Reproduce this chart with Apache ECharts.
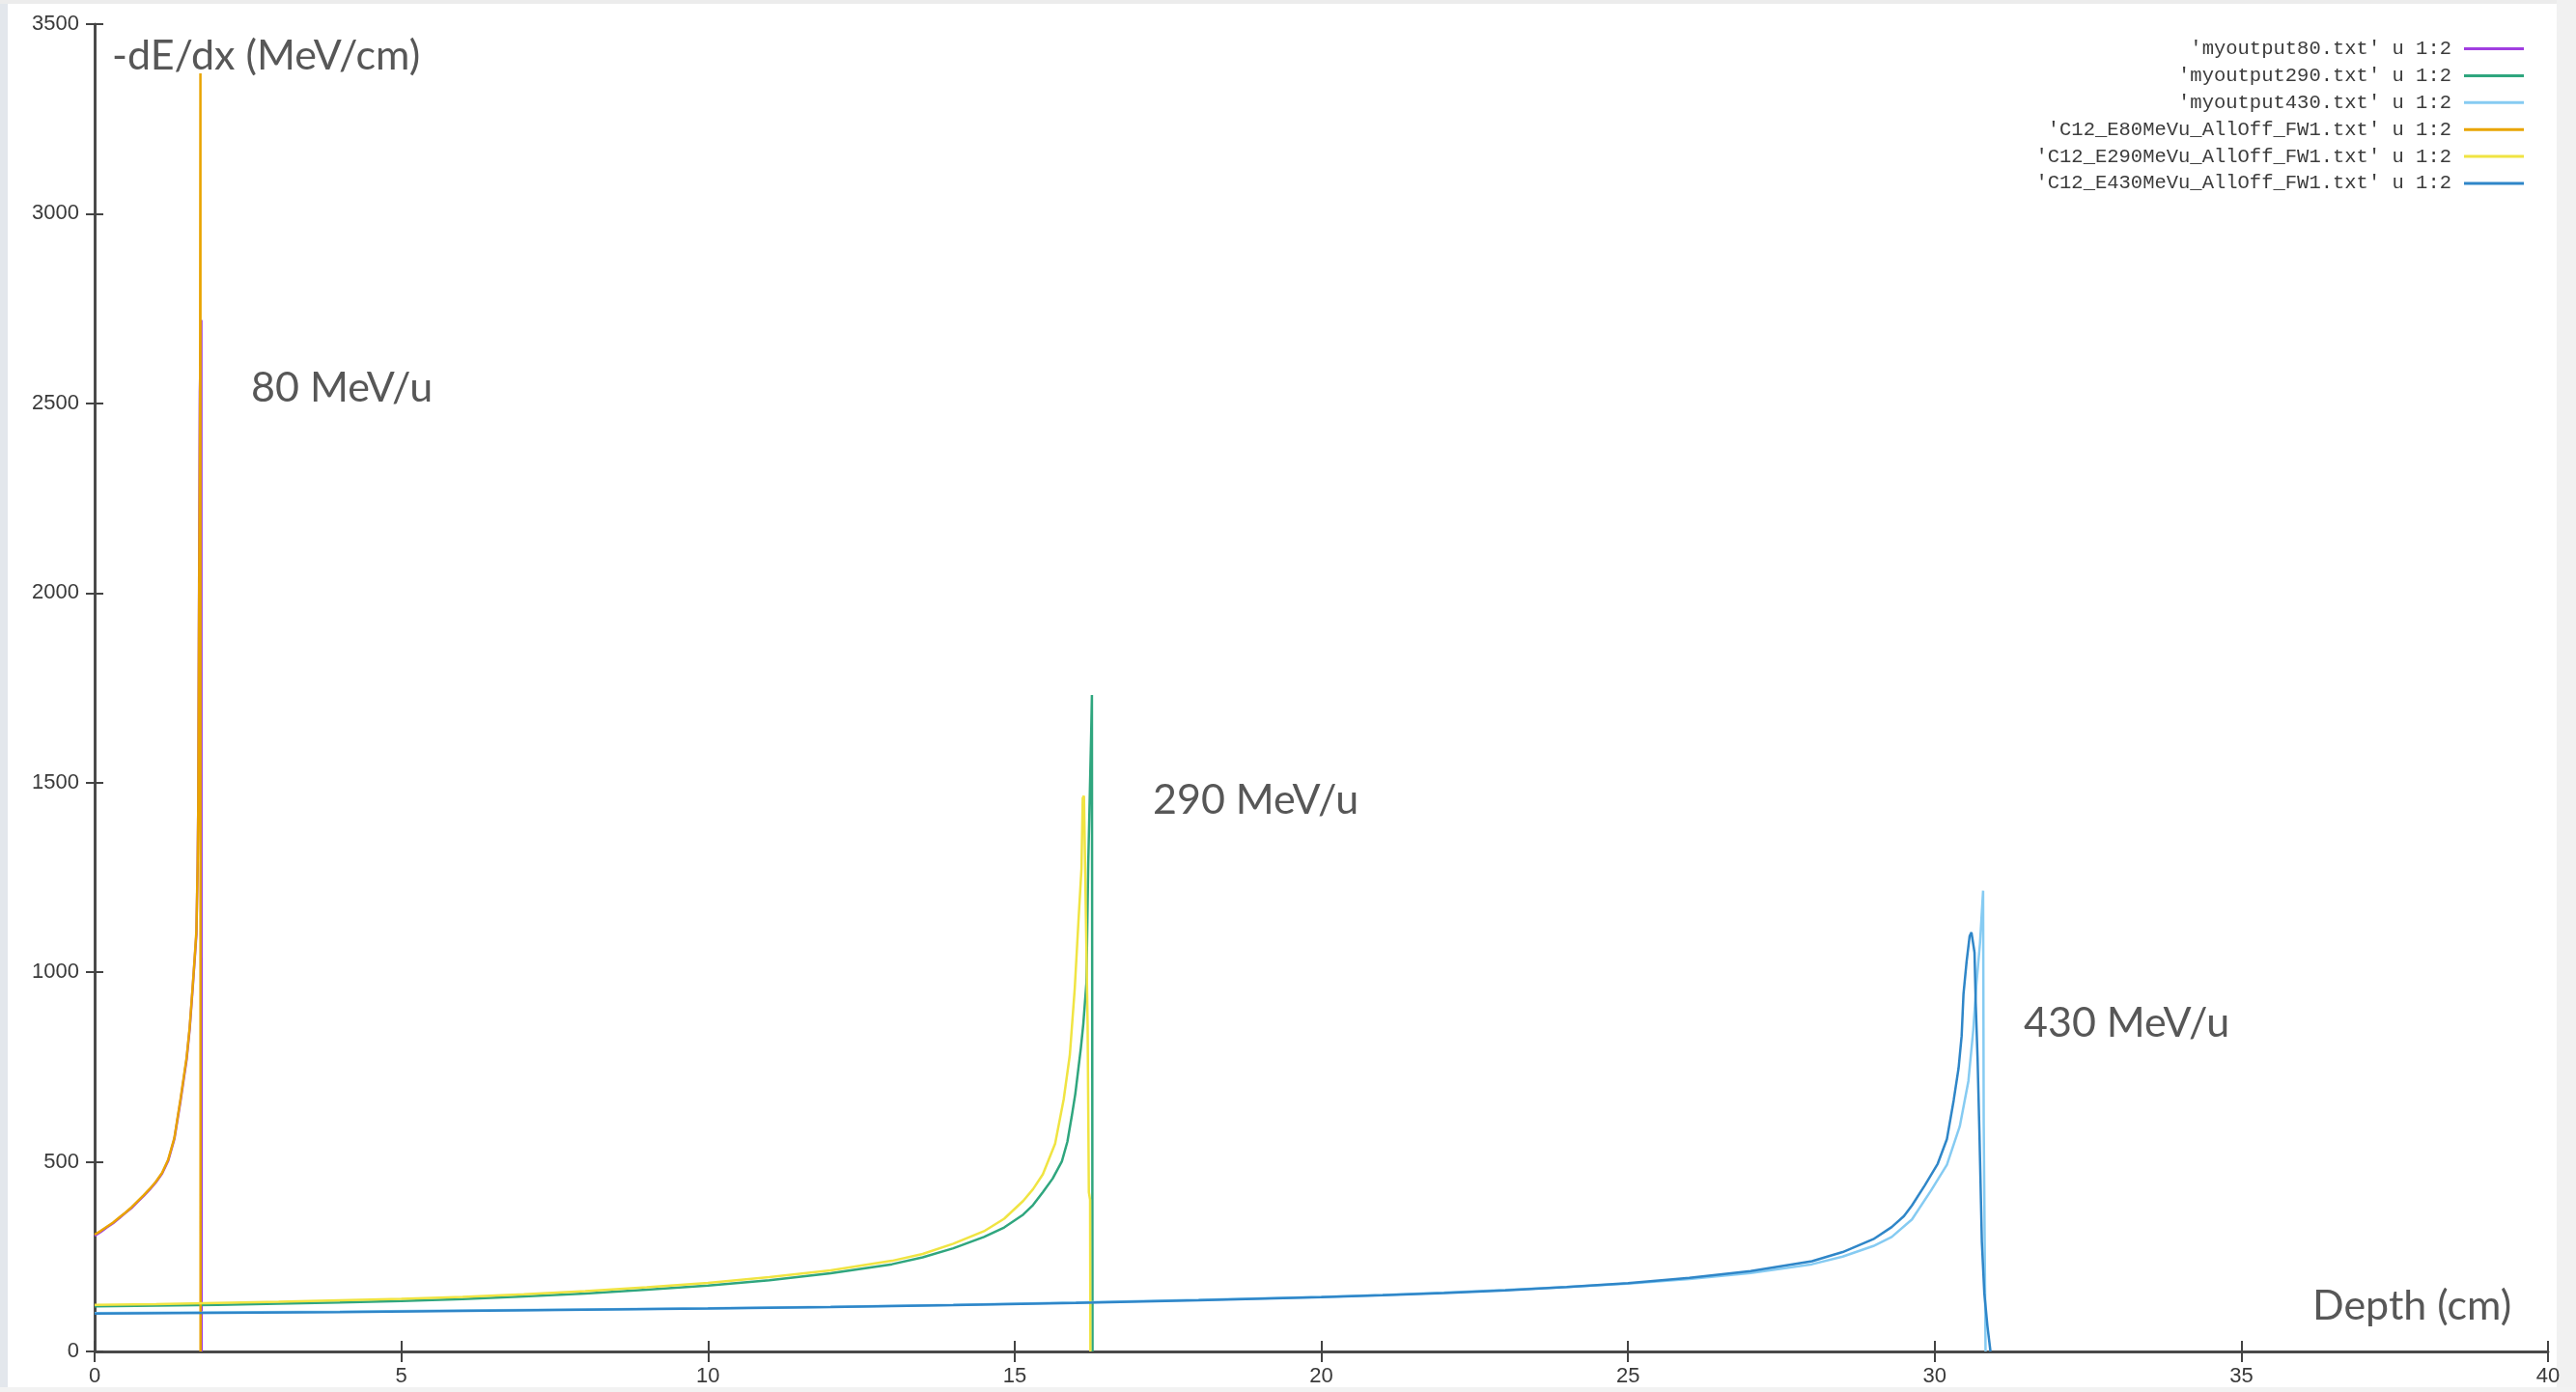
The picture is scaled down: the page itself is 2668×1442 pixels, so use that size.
<!DOCTYPE html>
<html>
<head>
<meta charset="utf-8">
<title>-dE/dx vs depth</title>
<script src="https://cdn.jsdelivr.net/npm/echarts@6.0.0/dist/echarts.min.js"></script>
<style>
  html, body { margin: 0; padding: 0; background: #ffffff; }
  #chart { width: 2668px; height: 1442px; }
</style>
</head>
<body>
<div id="chart"></div>
<script>
  // legend names, in gnuplot plotting order
  const seriesNames = [
    "'myoutput80.txt' u 1:2",
    "'myoutput290.txt' u 1:2",
    "'myoutput430.txt' u 1:2",
    "'C12_E80MeVu_AllOff_FW1.txt' u 1:2",
    "'C12_E290MeVu_AllOff_FW1.txt' u 1:2",
    "'C12_E430MeVu_AllOff_FW1.txt' u 1:2"
  ];
  const seriesColors = ['#a03ee0', '#2fa67e', '#86cbf2', '#e9a400', '#f0e442', '#2f86c8'];

  // depth (cm) and -dE/dx (MeV/cm)
  const depthMy80 = [0, 0.1, 0.2, 0.3, 0.4, 0.5, 0.6, 0.7, 0.8, 0.9, 1.0, 1.1, 1.2, 1.3, 1.4, 1.45, 1.5, 1.55, 1.6, 1.63, 1.66, 1.68, 1.69, 1.70, 1.71, 1.715, 1.74, 1.745];
  const dedxMy80 = [305, 315, 327, 338, 351, 365, 378, 394, 410, 427, 446, 469, 503, 560, 660, 715, 770, 850, 960, 1030, 1100, 1280, 1450, 1900, 2300, 2530, 2720, 0];

  const depthMy290 = [0, 1, 2, 3, 4, 5, 6, 7, 8, 9, 10, 11, 12, 13, 13.5, 14, 14.5, 14.83, 15.14, 15.3, 15.46, 15.62, 15.77, 15.86, 15.93, 15.99, 16.04, 16.08, 16.12, 16.17, 16.2, 16.25, 16.26, 16.27];
  const dedxMy290 = [119, 121, 123, 126, 129, 133, 138, 145, 153, 163, 174, 188, 206, 230, 248, 272, 302, 327, 361, 386, 420, 456, 501, 553, 619, 680, 747, 800, 864, 970, 1284, 1645, 1731, 0];

  const depthMy430 = [0, 2, 4, 6, 8, 10, 12, 14, 16, 18, 20, 21, 22, 23, 24, 25, 26, 27, 28, 28.5, 29, 29.3, 29.63, 29.94, 30.2, 30.41, 30.55, 30.63, 30.68, 30.74, 30.79, 30.8, 30.83];
  const dedxMy430 = [101, 103, 105, 108, 111, 114, 118, 123, 129, 136, 144, 149, 155, 162, 170, 179, 191, 207, 230, 250, 278, 302, 348, 424, 492, 594, 713, 848, 967, 1078, 1215, 600, 0];

  const depthC80 = [0, 0.1, 0.2, 0.3, 0.4, 0.5, 0.6, 0.7, 0.8, 0.9, 1.0, 1.1, 1.2, 1.3, 1.4, 1.45, 1.5, 1.55, 1.6, 1.63, 1.66, 1.68, 1.69, 1.70, 1.71, 1.72, 1.725, 1.727];
  const dedxC80 = [308, 318, 329, 340, 353, 366, 380, 396, 412, 429, 448, 471, 506, 563, 665, 720, 775, 855, 965, 1035, 1110, 1290, 1440, 1880, 2200, 2540, 3370, 0];

  const depthC290 = [0, 1, 2, 3, 4, 5, 6, 7, 8, 9, 10, 11, 12, 13, 13.5, 14, 14.5, 14.83, 15.14, 15.3, 15.46, 15.66, 15.8, 15.9, 15.98, 16.04, 16.09, 16.11, 16.13, 16.15, 16.19, 16.21, 16.23, 16.235];
  const dedxC290 = [123, 125, 128, 131, 135, 139, 144, 151, 159, 169, 181, 196, 214, 239, 257, 284, 317, 350, 397, 428, 467, 548, 665, 782, 957, 1133, 1273, 1459, 1465, 1270, 860, 420, 400, 0];

  const depthC430 = [0, 2, 4, 6, 8, 10, 12, 14, 16, 18, 20, 21, 22, 23, 24, 25, 26, 27, 28, 28.5, 29, 29.3, 29.5, 29.63, 29.84, 30.05, 30.2, 30.31, 30.39, 30.44, 30.47, 30.52, 30.57, 30.6, 30.65, 30.67, 30.7, 30.73, 30.77, 30.81, 30.86, 30.91];
  const dedxC430 = [100, 102, 104, 107, 110, 113, 117, 122, 128, 135, 143, 148, 154, 161, 170, 180, 194, 212, 238, 262, 296, 328, 357, 385, 438, 495, 560, 662, 747, 832, 942, 1027, 1095, 1105, 1052, 916, 772, 577, 288, 153, 68, 0];

  const depths = [depthMy80, depthMy290, depthMy430, depthC80, depthC290, depthC430];
  const values = [dedxMy80, dedxMy290, dedxMy430, dedxC80, dedxC290, dedxC430];

  const annotations = [
    { text: '-dE/dx (MeV/cm)', x: 116, y: 58 },
    { text: '80 MeV/u', x: 260, y: 402 },
    { text: '290 MeV/u', x: 1194, y: 829 },
    { text: '430 MeV/u', x: 2096, y: 1060 },
    { text: 'Depth (cm)', x: 2395, y: 1353 }
  ];

  const chart = echarts.init(document.getElementById('chart'));

  const tickLabel = {
    fontFamily: 'Liberation Sans',
    fontSize: 22,
    color: '#3a3a3a',
    formatter: function (v) { return String(v); }
  };
  const lineCol = '#444444';

  const series = seriesNames.map(function (name, i) {
    return {
      name: name,
      type: 'line',
      color: seriesColors[i],
      showSymbol: false,
      symbol: 'none',
      lineStyle: { width: 2.5, color: seriesColors[i] },
      data: depths[i].map(function (d, k) { return [d, values[i][k]]; })
    };
  });

  const option = {
    animation: false,
    backgroundColor: '#ffffff',
    grid: { left: 98, right: 29, top: 25, bottom: 42 },
    legend: {
      orient: 'vertical',
      right: 54,
      top: 40,
      padding: 0,
      align: 'right',
      icon: 'rect',
      itemWidth: 62,
      itemHeight: 3,
      itemGap: 6.9,
      textStyle: {
        fontFamily: 'Liberation Mono',
        fontSize: 20.5,
        lineHeight: 20,
        color: '#3c3c3c',
        padding: [0, 8, 0, 0]
      },
      data: seriesNames
    },
    xAxis: [
      {
        type: 'value', min: 0, max: 40, interval: 5, position: 'bottom',
        axisLine: { show: true, lineStyle: { color: lineCol, width: 2.5 } },
        axisTick: { show: true, inside: true, length: 11, lineStyle: { color: lineCol, width: 2 } },
        axisLabel: Object.assign({ margin: 15 }, tickLabel),
        splitLine: { show: false }
      },
      {
        type: 'value', min: 0, max: 40, interval: 5, position: 'top',
        axisLine: { show: true, lineStyle: { color: lineCol, width: 2.5 } },
        axisTick: { show: true, inside: true, length: 11, lineStyle: { color: lineCol, width: 2 } },
        axisLabel: { show: false },
        splitLine: { show: false }
      }
    ],
    yAxis: [
      {
        type: 'value', min: 0, max: 3500, interval: 500, position: 'left',
        axisLine: { show: true, lineStyle: { color: lineCol, width: 2.5 } },
        axisTick: { show: true, inside: true, length: 9, lineStyle: { color: lineCol, width: 2 } },
        axisLabel: Object.assign({ margin: 16 }, tickLabel),
        splitLine: { show: false }
      },
      {
        type: 'value', min: 0, max: 3500, interval: 500, position: 'right',
        axisLine: { show: true, lineStyle: { color: lineCol, width: 2.5 } },
        axisTick: { show: true, inside: true, length: 9, lineStyle: { color: lineCol, width: 2 } },
        axisLabel: { show: false },
        splitLine: { show: false }
      }
    ],
    graphic: [
      // slide edges around the plot
      { type: 'rect', shape: { x: 0, y: 0, width: 8, height: 1442 }, style: { fill: '#e3e7ec' }, silent: true },
      { type: 'rect', shape: { x: 0, y: 0, width: 2668, height: 4 }, style: { fill: '#ececec' }, silent: true },
      { type: 'rect', shape: { x: 2648, y: 0, width: 20, height: 1442 }, style: { fill: '#f1f1f1' }, silent: true },
      { type: 'rect', shape: { x: 0, y: 1437, width: 2668, height: 5 }, style: { fill: '#f2f2f2' }, silent: true }
    ].concat(annotations.map(function (a) {
      return {
        type: 'text',
        x: a.x,
        y: a.y,
        silent: true,
        style: {
          text: a.text,
          font: '43px Lato',
          fill: '#575757',
          align: 'left',
          verticalAlign: 'middle'
        }
      };
    })),
    series: series
  };

  chart.setOption(option);
</script>
</body>
</html>
